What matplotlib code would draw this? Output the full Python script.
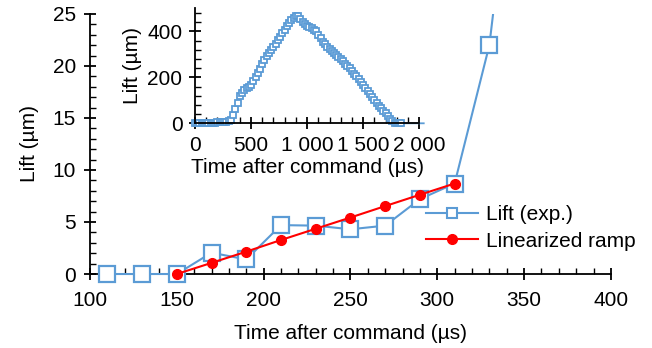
import matplotlib
matplotlib.use("Agg")
import matplotlib.pyplot as plt
from matplotlib.patches import Rectangle
from matplotlib.ticker import MultipleLocator, FixedLocator, FixedFormatter

plt.rcParams['font.family'] = ['Liberation Sans', 'DejaVu Sans']
plt.rcParams['font.size'] = 15

# Main chart data
time_exp = [110, 130, 150, 170, 190, 210, 230, 250, 270, 290, 310, 330, 350]
lift_exp = [0, 0, 0, 2.05, 1.4, 4.7, 4.65, 4.3, 4.65, 7.2, 8.7, 22.0, 50.0]
time_ramp = [150, 170, 190, 210, 230, 250, 270, 290, 310]
lift_ramp = [0, 1.07, 2.15, 3.27, 4.35, 5.43, 6.53, 7.62, 8.7]

# Inset data (full lift curve)
inset_time = list(range(0, 2060, 20))
inset_lift = [0, 0, 0, 1, 1, 1, 2, 2, 3, 3, 4, 4, 5, 6, 7,           # 0-280
              9, 14, 35, 62, 90, 118, 132, 143, 152, 160,             # 300-480
              168, 182, 200, 218, 238, 258, 276, 292, 305, 318,       # 500-680
              332, 347, 362, 376, 392, 408, 422, 436, 450, 460,       # 700-880
              466, 465, 452, 440, 432, 425, 420, 414, 408, 400,       # 900-1080
              385, 370, 356, 344, 334, 324, 314, 305, 297, 289,       # 1100-1280
              280, 270, 260, 250, 239, 228, 216, 204, 191, 178,       # 1300-1480
              165, 152, 139, 126, 113, 100, 88, 76, 65, 55,           # 1500-1680
              45, 32, 18, 8, 2, 0, 0, 0,                              # 1700-1840
              0, 0, 0, 0, 0, 0, 0, 0, 0, 0]                           # 1860-2040
n_marked = 93  # markers up to 1840

inset_xticks = [0, 500, 1000, 1500, 2000]
inset_xticklabels = ["0", "500", "1 000", "1 500", "2 000"]

blue = '#5B9BD5'
red = '#FF0000'

fig = plt.figure(figsize=(6.52, 3.48), dpi=100)
ax = fig.add_axes([0.138, 0.2126, 0.799, 0.7474])

clip = Rectangle((-0.1, -0.2), 1.2, 1.2, transform=ax.transAxes,
                 facecolor='none', edgecolor='none')
ax.add_patch(clip)

l1, = ax.plot(time_exp, lift_exp, color=blue, lw=1.5, marker='s', ms=11,
              mfc='white', mec=blue, mew=1.6, label='Lift (exp.)', zorder=3)
l2, = ax.plot(time_ramp, lift_ramp, color=red, lw=1.5, marker='o', ms=7,
              mfc=red, mec=red, label='Linearized ramp', zorder=4)
for l in (l1, l2):
    l.set_clip_path(clip)

ax.set_xlim(100, 400)
ax.set_ylim(0, 25)
ax.xaxis.set_major_locator(MultipleLocator(50))
ax.xaxis.set_minor_locator(MultipleLocator(10))
ax.yaxis.set_major_locator(MultipleLocator(5))
ax.yaxis.set_minor_locator(MultipleLocator(1))
for s in ['top', 'right']:
    ax.spines[s].set_visible(False)
for s in ['left', 'bottom']:
    ax.spines[s].set_linewidth(1.3)
ax.tick_params(which='major', direction='inout', length=8, width=1.3, labelsize=15)
ax.tick_params(axis='x', which='major', pad=8)
ax.tick_params(axis='y', which='major', pad=6)
ax.tick_params(which='minor', direction='in', length=4, width=1.0)
ax.set_xlabel('Time after command (µs)', fontsize=15, labelpad=10)
ax.set_ylabel('Lift (µm)', fontsize=15, labelpad=10)
ax.patch.set_alpha(0)

leg = ax.legend(loc='center left', bbox_to_anchor=(0.654, 0.345),
                bbox_transform=fig.transFigure, frameon=False, fontsize=15,
                handlelength=2.5, handletextpad=0.35, labelspacing=0.35,
                borderpad=0, borderaxespad=0)
leg.legend_handles[0].set_markersize(7.5)
leg.legend_handles[0].set_markeredgewidth(1.5)

# Inset
ax2 = fig.add_axes([0.299, 0.6457, 0.344, 0.33])
ax2.plot(inset_time, inset_lift, color=blue, lw=1.3, marker='s', ms=5,
         mfc='white', mec=blue, mew=1.3, markevery=slice(0, n_marked))
ax2.set_xlim(0, 2000)
ax2.set_ylim(0, 500)
ax2.xaxis.set_major_locator(FixedLocator(inset_xticks))
ax2.xaxis.set_major_formatter(FixedFormatter(inset_xticklabels))
ax2.xaxis.set_minor_locator(MultipleLocator(100))
ax2.yaxis.set_major_locator(MultipleLocator(200))
ax2.yaxis.set_minor_locator(MultipleLocator(40))
for s in ['top', 'right']:
    ax2.spines[s].set_visible(False)
for s in ['left', 'bottom']:
    ax2.spines[s].set_linewidth(1.3)
ax2.tick_params(which='major', direction='inout', length=8, width=1.3, labelsize=15)
ax2.tick_params(axis='x', which='major', pad=5)
ax2.tick_params(axis='y', which='major', pad=5)
ax2.tick_params(which='minor', direction='in', length=4, width=1.0)
ax2.set_xlabel('Time after command (µs)', fontsize=15, labelpad=2)
ax2.set_ylabel('Lift (µm)', fontsize=15, labelpad=4)
ax2.patch.set_alpha(0)
for line in ax2.get_lines():
    line.set_clip_on(False)

fig.savefig('out.png', dpi=100)
